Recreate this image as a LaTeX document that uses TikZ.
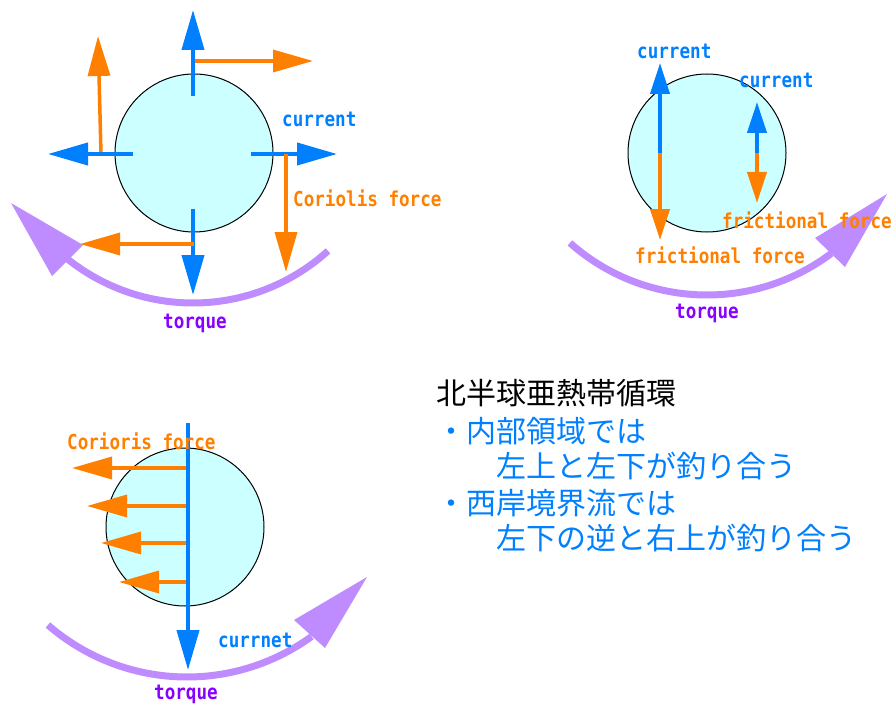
\documentclass[tikz,border=0pt]{standalone}
\usepackage{fontspec}
\usetikzlibrary{arrows.meta}
\newfontfamily\jpfont{Noto Sans CJK JP}
\newfontfamily\lblfont{DejaVu Sans Mono}
\definecolor{cblue}{RGB}{0,128,255}
\definecolor{corange}{RGB}{255,128,0}
\definecolor{cfill}{RGB}{204,255,255}
\definecolor{carc}{RGB}{191,140,255}
\definecolor{ctorque}{RGB}{136,0,255}
\begin{document}
\begin{tikzpicture}[x=1pt,y=-1pt,
  ball/.style={circle, draw=black, line width=1pt, fill=cfill, minimum size=158pt, inner sep=0pt},
  bluearr/.style={draw=cblue, line width=4pt, -{Triangle[length=40pt,width=22pt]}},
  orarr/.style={draw=corange, line width=3.5pt, -{Triangle[length=40pt,width=22pt]}},
  bluesm/.style={draw=cblue, line width=4pt, -{Triangle[length=31pt,width=19pt]}},
  orsm/.style={draw=corange, line width=4pt, -{Triangle[length=31pt,width=19pt]}},
  torquearc/.style={draw=carc, line width=7pt},
  torquehead/.style={fill=carc},
  lbl/.style={anchor=base west, inner sep=0pt, yscale=1.17, font=\lblfont\bfseries\fontsize{17.6}{20}\selectfont},
  jp/.style={anchor=west, inner sep=0pt, font=\jpfont\fontsize{30}{36}\selectfont},
]
\useasboundingbox (0,0) rectangle (892,706);

% ---------- panel 1 ----------
\draw[torquearc] plot[domain=47.8:128.6, samples=60] ({193+201*cos(\x)},{102+201*sin(\x)});
\fill[torquehead] (11,203) -- (52,276) -- (83,245) -- cycle;
\node[ball] (c1) at (194,153) {};
\draw[bluearr] (193,96) -- (193,10);
\draw[orarr] (195,61) -- (313,61);
\draw[orarr] (101,154) -- (98,36);
\draw[bluearr] (133,154) -- (48,154);
\draw[bluearr] (251,154) -- (337,154);
\draw[orarr] (286,154) -- (286,272);
\draw[bluearr] (193,209) -- (193,295);
\draw[orarr] (194,244) -- (80,244);
\node[lbl, text=cblue] (cur1) at (282,127) {current};
\node[lbl, text=corange] (cor1) at (293,207) {Coriolis force};
\node[lbl, text=ctorque] (tq1) at (163,328) {torque};

% ---------- panel 2 ----------
\draw[torquearc] plot[domain=53:131.6, samples=60] ({707+206.5*cos(\x)},{88.5+206.5*sin(\x)});
\fill[torquehead] (887,194) -- (845,267) -- (815,238) -- cycle;
\node[ball] (c2) at (707,153) {};
\draw[bluesm] (660,153) -- (660,63);
\draw[orsm] (660,153) -- (660,240);
\draw[bluesm] (757,153) -- (757,102);
\draw[orsm] (757,153) -- (757,203);
\node[lbl, text=cblue] (cur2) at (637,59) {current};
\node[lbl, text=cblue] (cur3) at (739,88) {current};
\node[lbl, text=corange] (fr1) at (722,229) {frictional force};
\node[lbl, text=corange] (fr2) at (635,263) {frictional force};
\node[lbl, text=ctorque] (tq2) at (675,318) {torque};

% ---------- panel 3 ----------
\draw[torquearc] plot[domain=54:131, samples=60] ({187+212*cos(\x)},{465+212*sin(\x)});
\fill[torquehead] (367,577) -- (325,648) -- (294,620) -- cycle;
\node[ball] (c3) at (185,527) {};
\draw[orarr] (188,468) -- (72,468);
\draw[orarr] (188,506) -- (87,506);
\draw[orarr] (188,543) -- (101,543);
\draw[orarr] (188,582) -- (119,582);
\draw[bluearr] (188,423) -- (188,670);
\node[lbl, text=corange] (cor3) at (67,449) {Corioris force};
\node[lbl, text=cblue] (cur4) at (218,647) {currnet};
\node[lbl, text=ctorque] (tq3) at (154,699) {torque};

% ---------- text ----------
\node[jp, text=black] (t0) at (436,393.5) {北半球亜熱帯循環};
\node[jp, text=cblue] (t1) at (436,431) {・内部領域では};
\node[jp, text=cblue] (t2) at (496,466) {左上と左下が釣り合う};
\node[jp, text=cblue] (t3) at (436,503) {・西岸境界流では};
\node[jp, text=cblue] (t4) at (496,538.5) {左下の逆と右上が釣り合う};
\end{tikzpicture}
\end{document}
